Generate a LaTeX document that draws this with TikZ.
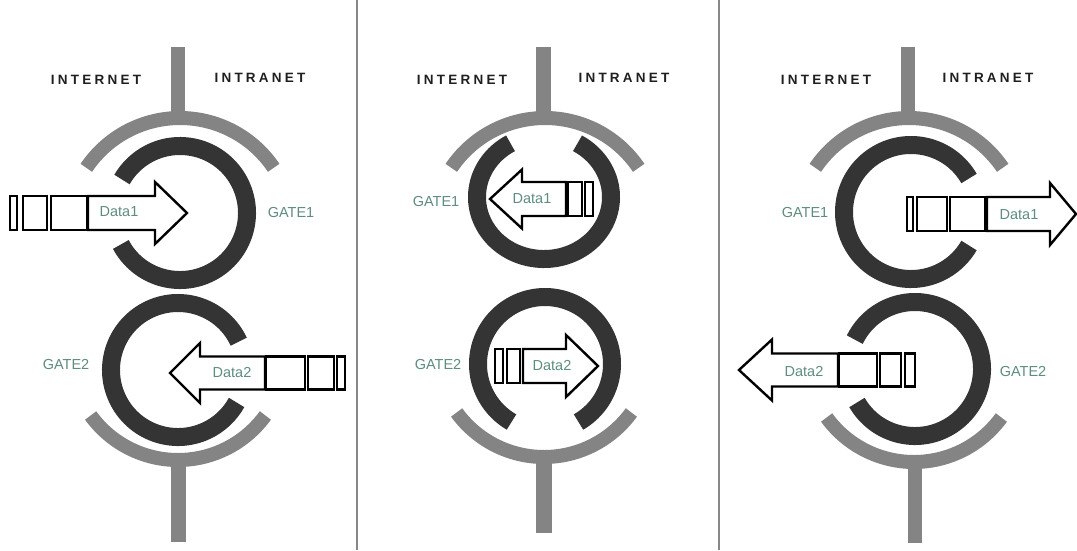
\documentclass[tikz,border=0pt]{standalone}
\usepackage{fontspec}
\setmainfont{Liberation Sans}
\definecolor{ringc}{RGB}{52,52,52}
\definecolor{grayc}{RGB}{132,132,132}
\definecolor{divc}{RGB}{135,135,135}
\definecolor{labc}{RGB}{95,140,128}
\newcommand\dataarrow[6]{\draw[darr] (#1,#4-#5) -- (#2,#4-#5) -- (#2,#4-#6) -- (#3,#4) -- (#2,#4+#6) -- (#2,#4+#5) -- (#1,#4+#5) -- cycle;}
\newcommand\pbox[4]{\draw[pboxs] (#1,#3) rectangle (#2,#4);}
\newcommand\toparc[2]{\draw[garc] (#1,#2) ++(34:113pt) arc[start angle=34,end angle=146,radius=113pt];}
\newcommand\botarc[2]{\draw[garc] (#1,#2) ++(216:108pt) arc[start angle=216,end angle=324,radius=108pt];}
\begin{document}
\begin{tikzpicture}[x=1pt,y=-1pt,
  ring/.style={draw=ringc,line width=18pt},
  garc/.style={draw=grayc,line width=14pt},
  pboxs/.style={draw=black,line width=2.3pt,fill=white},
  darr/.style={draw=black,line width=2.4pt,fill=white,line join=miter},
  lbl/.style={font=\fontsize{14.5}{16}\selectfont,text=labc,inner sep=0pt},
  side/.style={font=\fontsize{13.5}{15}\selectfont\bfseries\addfontfeature{LetterSpace=24},text=black!88,inner sep=0pt}]
\useasboundingbox (0,0) rectangle (1077,550);
\fill[white] (0,0) rectangle (1077,550);
% dividers
\draw[divc,line width=2.2pt] (357,0) -- (357,550);
\draw[divc,line width=2.2pt] (719,0) -- (719,550);

% ================= panel 1 =================
\fill[grayc] (171,47) rectangle (185,116);
\toparc{180}{231}
\botarc{178}{352}
\fill[grayc] (171,458) rectangle (186,542);
\draw[ring] (180,213) ++(-152:67pt) arc[start angle=-152,end angle=150,radius=67pt];
\draw[ring] (178,370) ++(25:67pt) arc[start angle=25,end angle=331,radius=67pt];
\node[side] (inet1) at (96,80) {INTERNET};
\node[side] (intr1) at (260,78) {INTRANET};
% data1 right
\pbox{10}{17}{196}{230}
\pbox{23}{47}{196}{230}
\pbox{51}{87}{196}{230}
\dataarrow{88}{155}{187}{213}{17}{31}
\node[lbl] (d11) at (119,212) {Data1};
\node[lbl] (g11) at (291,213) {GATE1};
% data2 left
\dataarrow{265}{200}{170}{373}{16.5}{30}
\pbox{266}{305}{356.5}{389.5}
\pbox{308}{334}{356.5}{389.5}
\pbox{337}{345}{356.5}{389.5}
\node[lbl] (d21) at (232,373) {Data2};
\node[lbl] (g21) at (66,364) {GATE2};

% ================= panel 2 =================
\fill[grayc] (536,47) rectangle (551,116);
\toparc{545}{231}
\botarc{544}{349}
\fill[grayc] (536,455) rectangle (552,533);
\draw[ring] (544,197) ++(120:67pt and 62pt) arc[start angle=120,end angle=420,x radius=67pt,y radius=62pt];
\draw[ring] (545,364) ++(-60:67pt) arc[start angle=-60,end angle=240,radius=67pt];
\node[side] (inet2) at (462,80) {INTERNET};
\node[side] (intr2) at (624,78) {INTRANET};
% data1 left
\dataarrow{566}{522}{490}{199}{17}{29.5}
\pbox{568}{582}{182}{216}
\pbox{585}{593}{182}{216}
\node[lbl] (d12) at (532,199) {Data1};
\node[lbl] (g12) at (436,202) {GATE1};
% data2 right
\pbox{495}{503}{349}{383}
\pbox{507}{520}{349}{383}
\dataarrow{523}{566}{598}{366}{17}{31}
\node[lbl] (d22) at (552,366) {Data2};
\node[lbl] (g22) at (438,364) {GATE2};

% ================= panel 3 =================
\fill[grayc] (901,47) rectangle (915,116);
\toparc{909}{231}
\botarc{914}{354}
\fill[grayc] (908,460) rectangle (922,543);
\draw[ring] (911,212) ++(30:67pt) arc[start angle=30,end angle=330,radius=67pt];
\draw[ring] (915,369) ++(-150:67pt) arc[start angle=-150,end angle=154,radius=67pt];
\node[side] (inet3) at (826,80) {INTERNET};
\node[side] (intr3) at (988,78) {INTRANET};
% data1 right
\pbox{907}{913}{197}{231}
\pbox{917}{947}{197}{231}
\pbox{950}{985}{197}{231}
\dataarrow{987}{1050}{1076}{214}{17}{31}
\node[lbl] (d13) at (1019,215) {Data1};
\node[lbl] (g13) at (805,213) {GATE1};
% data2 left
\dataarrow{838}{772}{739}{370}{16.5}{30.5}
\pbox{839}{877}{353.5}{386.5}
\pbox{880}{901}{353.5}{386.5}
\pbox{905}{915}{353.5}{386.5}
\node[lbl] (d23) at (804,371) {Data2};
\node[lbl] (g23) at (1023,371) {GATE2};
\end{tikzpicture}
\end{document}
